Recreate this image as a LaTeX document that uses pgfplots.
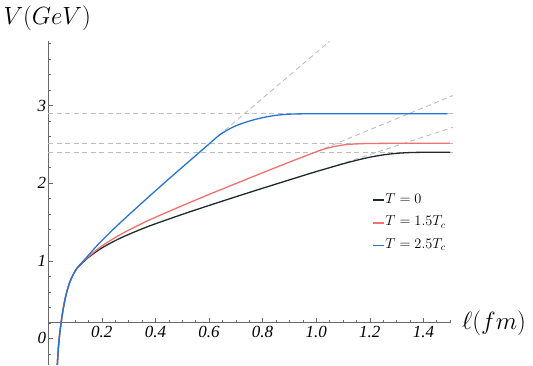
\documentclass[border=0pt]{standalone}
\usepackage{fontspec}
\usepackage{pgfplots}
\pgfplotsset{compat=1.18}
\newfontfamily\tickfont{Liberation Serif}

\definecolor{cblack}{RGB}{30,42,42}
\definecolor{cred}{RGB}{242,112,112}
\definecolor{cblue}{RGB}{40,116,212}
\definecolor{axgray}{RGB}{105,105,105}
\definecolor{dgray}{RGB}{190,190,190}

\begin{document}
\begin{tikzpicture}
\begin{axis}[
  x=268pt, y=77.6pt,
  xmin=0, xmax=1.5,
  ymin=-0.343, ymax=3.83,
  axis x line=bottom, axis y line=left,
  axis x line shift=-42.1pt,
  axis line style={-, draw=axgray, line width=1.1pt},
  every outer x axis line/.append style={-},
  every outer y axis line/.append style={-},
  clip=false,
  xtick={0.2,0.4,0.6,0.8,1.0,1.2,1.4},
  minor xtick={0.05,0.1,0.15,0.25,0.3,0.35,0.45,0.5,0.55,0.65,0.7,0.75,0.85,0.9,0.95,1.05,1.1,1.15,1.25,1.3,1.35,1.45,1.5},
  ytick={0,1,2,3},
  minor ytick={-0.2,0.2,0.4,0.6,0.8,1.2,1.4,1.6,1.8,2.2,2.4,2.6,2.8,3.2,3.4,3.6,3.8},
  tick align=inside,
  major tick length=5pt, minor tick length=3pt,
  tick style={draw=axgray, line width=0.6pt},
  tick label style={font=\tickfont\itshape\fontsize{17}{17}\selectfont},
  xticklabel={\pgfmathprintnumber[fixed,fixed zerofill,precision=1,assume math mode=true]{\tick}},
  yticklabel={\pgfmathprintnumber[assume math mode=true]{\tick}},
  yticklabel style={xshift=1.5pt},
  legend style={at={(axis cs:1.2093,1.889)}, anchor=north west, draw=none, fill=none,
    font=\fontsize{14.4}{17}\selectfont, row sep=6.85pt, inner sep=0pt,
    nodes={inner sep=1pt, text height=10pt, text depth=4pt}},
  legend cell align=left,
  legend image code/.code={\draw[#1] (0pt,0pt) -- (10.5pt,0pt);},
]

% asymptotes
\addplot[dgray, line width=0.9pt, dash pattern=on 5pt off 3.5pt, forget plot]
  coordinates {(0,2.894)(1.51,2.894)};
\addplot[dgray, line width=0.9pt, dash pattern=on 5pt off 3.5pt, forget plot]
  coordinates {(0,2.514)(1.51,2.514)};
\addplot[dgray, line width=0.9pt, dash pattern=on 5pt off 3.5pt, forget plot]
  coordinates {(0,2.398)(1.51,2.398)};
\addplot[dgray, line width=0.9pt, dash pattern=on 5pt off 3.5pt, forget plot]
  coordinates {(0.635,2.61)(1.05,3.83)};
\addplot[dgray, line width=0.9pt, dash pattern=on 5pt off 3.5pt, forget plot]
  coordinates {(1.0,2.405)(1.51,3.13)};
\addplot[dgray, line width=0.9pt, dash pattern=on 5pt off 3.5pt, forget plot]
  coordinates {(1.05,2.20)(1.51,2.72)};

% T = 0
\addplot[cblack, line width=1.3pt, smooth] coordinates {
  (0.034,-0.34)(0.038,-0.12)(0.042,0.03)(0.048,0.20)(0.055,0.36)(0.062,0.49)
  (0.069,0.595)(0.08,0.72)(0.09,0.80)(0.10,0.865)(0.111,0.918)(0.125,0.965)
  (0.144,1.026)(0.17,1.096)(0.2,1.165)(0.25,1.26)(0.3,1.34)(0.38,1.452)
  (0.5,1.598)(0.6,1.713)(0.7,1.825)(0.8,1.935)(0.94,2.086)(1.0,2.15)
  (1.05,2.20)(1.1,2.25)(1.15,2.295)(1.2,2.335)(1.25,2.365)(1.3,2.385)
  (1.35,2.395)(1.4,2.398)(1.5,2.398)};
\addlegendentry{$T=0$}

% T = 1.5 Tc
\addplot[cred, line width=1.3pt, smooth] coordinates {
  (0.034,-0.34)(0.038,-0.12)(0.042,0.03)(0.048,0.20)(0.055,0.36)(0.062,0.49)
  (0.069,0.595)(0.08,0.72)(0.09,0.80)(0.10,0.865)(0.111,0.918)(0.125,0.97)
  (0.144,1.035)(0.17,1.11)(0.2,1.19)(0.25,1.30)(0.3,1.395)(0.38,1.53)
  (0.5,1.71)(0.6,1.855)(0.7,1.995)(0.8,2.135)(0.9,2.272)(0.94,2.325)
  (1.0,2.405)(1.03,2.44)(1.06,2.468)(1.09,2.487)(1.12,2.50)(1.16,2.508)
  (1.2,2.512)(1.3,2.514)(1.5,2.514)};
\addlegendentry{$T=1.5T_c$}

% T = 2.5 Tc
\addplot[cblue, line width=1.3pt, smooth] coordinates {
  (0.034,-0.34)(0.038,-0.12)(0.042,0.03)(0.048,0.20)(0.055,0.36)(0.062,0.49)
  (0.069,0.595)(0.08,0.72)(0.09,0.80)(0.10,0.865)(0.111,0.92)(0.125,0.975)
  (0.137,1.02)(0.17,1.15)(0.2,1.26)(0.25,1.43)(0.3,1.59)(0.38,1.84)
  (0.45,2.055)(0.5,2.205)(0.55,2.355)(0.6,2.505)(0.635,2.61)(0.66,2.668)
  (0.7,2.74)(0.75,2.80)(0.8,2.845)(0.85,2.875)(0.9,2.89)(0.95,2.894)
  (1.0,2.894)(1.49,2.894)};
\addlegendentry{$T=2.5T_c$}

\node[anchor=base west, inner sep=0pt, font=\fontsize{27}{30}\selectfont]
  at (axis cs:-0.1675,4.04) {$V(GeV)$};
\node[anchor=west, inner sep=0pt, font=\fontsize{26}{30}\selectfont]
  at (axis cs:1.544,0.2) {$\ell(fm)$};
\path (axis cs:-0.1799,-0.343) rectangle (axis cs:1.809,4.361);
\end{axis}
\end{tikzpicture}
\end{document}
